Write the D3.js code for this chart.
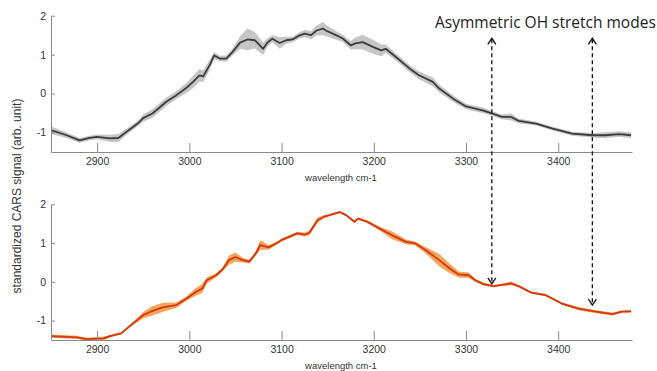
<!DOCTYPE html>
<html>
<head>
<meta charset="utf-8">
<script src="https://cdn.jsdelivr.net/npm/d3@7"></script>
<style>
  body { margin: 0; background: #fff; }
  svg { display: block; font-family: "Liberation Sans", Arial, sans-serif; }
</style>
</head>
<body>
<div class="view1"></div>
<script>
// Wavenumbers (cm-1) and values
const topWave = [2850, 2867, 2881, 2892, 2900, 2914, 2923, 2932, 2944, 2950, 2960, 2975, 2986, 2997, 3004, 3011, 3015, 3022, 3027, 3033, 3040, 3047, 3055, 3063, 3071, 3080, 3085, 3090, 3098, 3105, 3112, 3119, 3125, 3132, 3138, 3145, 3148, 3159, 3166, 3175, 3180, 3188, 3199, 3208, 3213, 3224, 3239, 3249, 3264, 3271, 3286, 3300, 3318, 3328, 3339, 3349, 3357, 3376, 3394, 3415, 3437, 3451, 3466, 3479];
const topMean = [-0.94, -1.07, -1.2, -1.14, -1.11, -1.15, -1.14, -0.98, -0.77, -0.63, -0.51, -0.21, -0.04, 0.15, 0.3, 0.47, 0.44, 0.73, 0.98, 0.9, 0.9, 1.07, 1.31, 1.39, 1.37, 1.15, 1.32, 1.41, 1.3, 1.37, 1.39, 1.49, 1.54, 1.5, 1.62, 1.67, 1.62, 1.5, 1.42, 1.24, 1.29, 1.32, 1.2, 1.11, 1.15, 0.94, 0.64, 0.47, 0.3, 0.13, -0.13, -0.33, -0.43, -0.51, -0.6, -0.6, -0.7, -0.77, -0.9, -1.03, -1.07, -1.07, -1.04, -1.07];
const topSpread = [0.1, 0.07, 0.06, 0.06, 0.06, 0.09, 0.1, 0.08, 0.07, 0.09, 0.11, 0.11, 0.1, 0.13, 0.16, 0.16, 0.15, 0.13, 0.09, 0.07, 0.08, 0.09, 0.16, 0.28, 0.21, 0.16, 0.11, 0.09, 0.15, 0.09, 0.07, 0.08, 0.09, 0.11, 0.13, 0.17, 0.15, 0.11, 0.09, 0.11, 0.15, 0.19, 0.18, 0.15, 0.11, 0.09, 0.09, 0.1, 0.11, 0.1, 0.08, 0.07, 0.07, 0.06, 0.06, 0.09, 0.06, 0.05, 0.05, 0.05, 0.06, 0.08, 0.07, 0.07];

const botWave = [2850, 2867, 2878, 2889, 2907, 2914, 2926, 2939, 2950, 2958, 2971, 2986, 2997, 3007, 3014, 3019, 3029, 3036, 3043, 3050, 3058, 3065, 3072, 3077, 3086, 3094, 3101, 3112, 3117, 3125, 3130, 3139, 3146, 3152, 3163, 3170, 3179, 3183, 3193, 3206, 3220, 3235, 3245, 3256, 3271, 3282, 3292, 3303, 3310, 3319, 3330, 3339, 3349, 3357, 3371, 3386, 3404, 3422, 3441, 3459, 3469, 3479];
const botMean = [-1.4, -1.42, -1.43, -1.48, -1.46, -1.4, -1.33, -1.07, -0.86, -0.77, -0.66, -0.6, -0.43, -0.26, -0.17, 0.04, 0.17, 0.32, 0.56, 0.64, 0.56, 0.52, 0.73, 0.95, 0.89, 0.99, 1.09, 1.2, 1.25, 1.22, 1.26, 1.59, 1.68, 1.72, 1.8, 1.72, 1.55, 1.63, 1.55, 1.38, 1.2, 1.03, 0.99, 0.82, 0.56, 0.35, 0.19, 0.17, 0.04, -0.06, -0.11, -0.08, -0.04, -0.11, -0.28, -0.34, -0.56, -0.69, -0.77, -0.83, -0.77, -0.76];
const botSpread = [0.04, 0.04, 0.04, 0.04, 0.05, 0.03, 0.03, 0.04, 0.08, 0.12, 0.12, 0.07, 0.06, 0.1, 0.12, 0.08, 0.05, 0.05, 0.12, 0.12, 0.06, 0.05, 0.06, 0.12, 0.06, 0.04, 0.04, 0.04, 0.04, 0.05, 0.06, 0.07, 0.04, 0.03, 0.03, 0.03, 0.03, 0.03, 0.04, 0.05, 0.1, 0.06, 0.05, 0.08, 0.16, 0.12, 0.08, 0.07, 0.04, 0.04, 0.03, 0.03, 0.05, 0.03, 0.03, 0.03, 0.03, 0.04, 0.04, 0.04, 0.03, 0.03];

const xTicks = [2900, 3000, 3100, 3200, 3300, 3400];
const yTicks = [-1, 0, 1, 2];

// the two OH modes marked with arrows (wavenumber, y on top panel, y on bottom panel)
const modeWave = [3328, 3437];
const modeTopY = [1.42, 1.42];
const modeBotY = [-0.05, -0.6];

const W = 657, H = 371;

let svg = d3.select(".view1").append("svg")
    .attr("width", W)
    .attr("height", H);

svg.append("rect").attr("width", W).attr("height", H).attr("fill", "#fff");

// shared x scale for both panels
let x = d3.scaleLinear().domain([2850, 3480]).range([51, 632]);

/** one spectrum panel: band + mean line + axes */
class SpectrumPanel {
    constructor(wave, mean, spread, top, bottom, lineColor, bandColor){
        this.rows = wave.map((w, i) => ({w: w, m: mean[i], s: spread[i]}));
        this.y = d3.scaleLinear().domain([-1.5, 2]).range([bottom, top]);
        this.bottom = bottom;
        this.lineColor = lineColor;
        this.bandColor = bandColor;
    }

    draw(){
        let y = this.y;
        let g = svg.append("g");

        let area = d3.area()
            .x(d => x(d.w))
            .y0(d => y(d.m - d.s))
            .y1(d => y(d.m + d.s));
        g.append("path")
            .datum(this.rows)
            .attr("d", area)
            .attr("fill", this.bandColor);

        let line = d3.line()
            .x(d => x(d.w))
            .y(d => y(d.m));
        g.append("path")
            .datum(this.rows)
            .attr("d", line)
            .attr("fill", "none")
            .attr("stroke", this.lineColor)
            .attr("stroke-width", 1.8)
            .attr("stroke-linejoin", "round");

        // x axis, ticks pointing up into the plot
        let xAxis = g.append("g")
            .attr("transform", "translate(0," + this.bottom + ")")
            .call(d3.axisBottom(x).tickValues(xTicks).tickSizeInner(-9).tickSizeOuter(0)
                .tickPadding(6).tickFormat(d => String(d)));

        // y axis, short ticks pointing right
        let yAxis = g.append("g")
            .attr("transform", "translate(51,0)")
            .call(d3.axisLeft(y).tickValues(yTicks).tickSizeInner(-4).tickSizeOuter(0)
                .tickPadding(5).tickFormat(d => String(d)));

        [xAxis, yAxis].forEach(a => {
            a.select(".domain").attr("stroke", "#8a8a8a");
            a.selectAll(".tick line").attr("stroke", "#8a8a8a");
            a.selectAll(".tick text").attr("fill", "#333").attr("font-size", 10.5)
                .attr("font-family", "Liberation Sans, Arial, sans-serif");
        });

        g.append("text")
            .attr("x", 341)
            .attr("y", this.bottom + 29)
            .attr("text-anchor", "middle")
            .attr("font-size", 9.5)
            .attr("fill", "#333")
            .text("wavelength cm-1");
    }
}

let topPanel = new SpectrumPanel(topWave, topMean, topSpread, 15.7, 152, "#3c3c3c", "#c6c6c6");
let botPanel = new SpectrumPanel(botWave, botMean, botSpread, 204.3, 340, "#d2380e", "#f6a55c");
topPanel.draw();
botPanel.draw();

// y axis title shared by both panels
svg.append("text")
    .attr("transform", "translate(21,196) rotate(-90)")
    .attr("text-anchor", "middle")
    .attr("font-size", 12)
    .attr("fill", "#333")
    .text("standardized CARS signal (arb. unit)");

// annotation
svg.append("text")
    .attr("x", 435)
    .attr("y", 28)
    .attr("font-family", "Open Sans, sans-serif")
    .attr("font-size", 15.5)
    .attr("fill", "#222")
    .text("Asymmetric OH stretch modes");

// dashed arrows linking the modes in both panels
let arrows = svg.append("g");
modeWave.forEach((w, i) => {
    let ax = x(w);
    let y1 = topPanel.y(modeTopY[i]);
    let y2 = botPanel.y(modeBotY[i]);
    arrows.append("line")
        .attr("x1", ax).attr("x2", ax)
        .attr("y1", y1 + 1).attr("y2", y2 - 1)
        .attr("stroke", "#111")
        .attr("stroke-width", 1.3)
        .attr("stroke-dasharray", "4,3");
    // open chevron heads
    arrows.append("path")
        .attr("d", "M" + (ax - 4) + "," + (y1 + 6) + "L" + ax + "," + y1 + "L" + (ax + 4) + "," + (y1 + 6))
        .attr("fill", "none").attr("stroke", "#111").attr("stroke-width", 1.3);
    arrows.append("path")
        .attr("d", "M" + (ax - 4) + "," + (y2 - 6) + "L" + ax + "," + y2 + "L" + (ax + 4) + "," + (y2 - 6))
        .attr("fill", "none").attr("stroke", "#111").attr("stroke-width", 1.3);
});
</script>
</body>
</html>
